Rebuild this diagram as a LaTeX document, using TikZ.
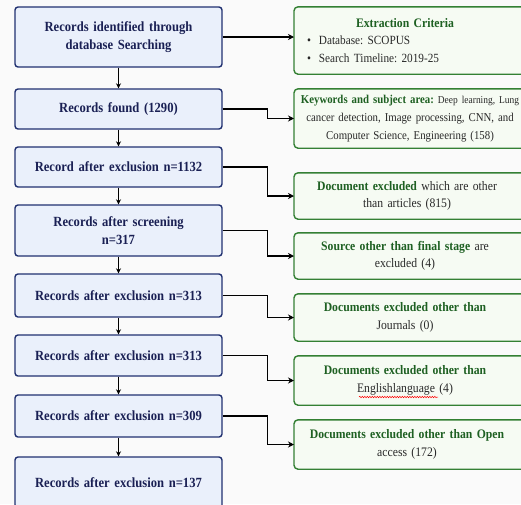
\documentclass[tikz,border=0pt]{standalone}
\usepackage{fontspec}
\setmainfont{Liberation Serif}[FakeStretch=0.9]
\usetikzlibrary{positioning,arrows.meta,backgrounds,decorations.pathmorphing}
\definecolor{navyline}{RGB}{32,48,112}
\definecolor{navytext}{RGB}{26,32,84}
\definecolor{bluefill}{RGB}{234,240,251}
\definecolor{greenline}{RGB}{52,128,52}
\definecolor{greentext}{RGB}{30,96,34}
\definecolor{greenfill}{RGB}{246,251,243}
\definecolor{bodytext}{RGB}{40,40,40}
\definecolor{pagebg}{RGB}{250,250,250}
\tikzset{
  flow/.style={draw=navyline, fill=bluefill, line width=1.4pt, rounded corners=3pt, minimum width=207pt, text width=200pt, align=center, text=navytext, font=\fontsize{14}{18}\selectfont\bfseries, inner sep=0pt},
  crit/.style={minimum width=222pt, text width=222pt, align=center, text=bodytext, font=\fontsize{13}{17.5}\selectfont, inner sep=0pt},
  critframe/.style={draw=greenline, fill=greenfill, line width=1.4pt, rounded corners=4pt},
  down/.style={line width=1.1pt, -{Stealth[length=5pt,width=5pt]}},
  side/.style={line width=1.1pt, -{Stealth[length=6pt,width=6pt]}}
}
\newcommand{\hl}[1]{\textcolor{greentext}{\bfseries #1}}
\frenchspacing

\begin{document}
\begin{tikzpicture}[x=1pt,y=-1pt]
  \useasboundingbox (0,0) rectangle (521,504);
  \coordinate (ledge) at (294,0);
  \coordinate (redge) at (536,0);
  % flow of records
  \node[flow, minimum height=60pt] (f1) at (118.5,37) {Records identified through\\database Searching};
  \node[flow, minimum height=40pt] (f2) at (118.5,109) {Records found (1290)};
  \node[flow, minimum height=40pt] (f3) at (118.5,167) {Record after exclusion n=1132};
  \node[flow, minimum height=51pt] (f4) at (118.5,230.5) {Records after screening\\n=317};
  \node[flow, minimum height=43pt] (f5) at (118.5,295.5) {Records after exclusion n=313};
  \node[flow, minimum height=41pt] (f6) at (118.5,355.5) {Records after exclusion n=313};
  \node[flow, minimum height=42pt] (f7) at (118.5,416) {Records after exclusion n=309};
  \node[flow, minimum height=51pt] (f8) at (118.5,482.5) {Records after exclusion n=137};
  % criteria
  \node[crit, minimum height=67pt] (x1) at (405,40.5) {\hl{Extraction Criteria}\\
    \makebox[222pt][l]{\fontsize{12.5}{17.5}\selectfont\hspace{13pt}\textbullet\hspace{8pt}Database: SCOPUS}\\
    \makebox[222pt][l]{\fontsize{12.5}{17.5}\selectfont\hspace{13pt}\textbullet\hspace{8pt}Search Timeline: 2019-25}};
  \node[crit, minimum height=59pt, font=\fontsize{12}{18}\selectfont] (x2) at (410,118.5) {\hl{Keywords and subject area:} {\fontsize{10.5}{18}\selectfont Deep learning, Lung}\\cancer detection, Image processing, CNN, and\\Computer Science, Engineering (158)};
  \node[crit, minimum height=46pt] (x3) at (407,196) {\hl{Document excluded} which are other\\than articles (815)};
  \node[crit, minimum height=46pt] (x4) at (405,256) {\hl{Source other than final stage} are\\excluded (4)};
  \node[crit, minimum height=47pt] (x5) at (405,317.5) {\hl{Documents excluded other than}\\Journals (0)};
  \node[crit, minimum height=49pt] (x6) at (405,380.5) {\hl{Documents excluded other than}\\Englishlanguage (4)};
  \node[crit, minimum height=49pt] (x7) at (407,444.5) {\hl{Documents excluded other than Open}\\access (172)};
  % frames behind the criteria
  \begin{scope}[on background layer]
    \fill[pagebg] (0,0) rectangle (521,504);
    \foreach \n in {x1,x2,x3,x4,x5,x6,x7}
      \draw[critframe] (ledge |- \n.north) rectangle (redge |- \n.south);
  \end{scope}
  % arrows
  \foreach \a/\b in {f1/f2,f2/f3,f3/f4,f4/f5,f5/f6,f6/f7,f7/f8}
    \draw[down] (\a) -- (\b);
  \draw[side] (f1.east) -- (f1.east -| ledge);
  \foreach \a/\b in {f2/x2,f3/x3,f4/x4,f5/x5,f6/x6,f7/x7}
    \draw[side] (\a.east) -- ++(45,0) |- (ledge |- \b.west);
  % spelling mark
  \draw[red, line width=0.5pt, decorate, decoration={snake, segment length=2.5pt, amplitude=0.7pt}] (359,397) -- (438,397);
\end{tikzpicture}
\end{document}
